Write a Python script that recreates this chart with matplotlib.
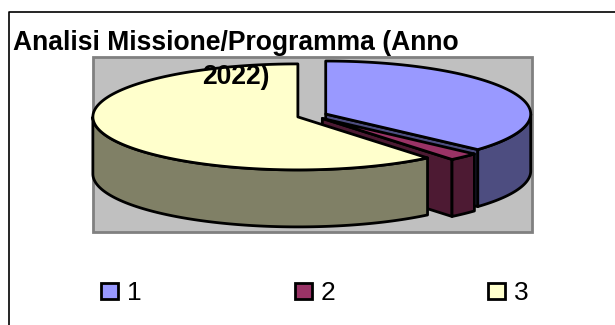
import numpy as np
import matplotlib
matplotlib.use('Agg')
import matplotlib.pyplot as plt
from matplotlib.patches import Polygon, Rectangle

# Data
labels = ['1', '2', '3']
values = [36.7, 2.4, 60.9]
title_lines = ['Analisi Missione/Programma (Anno', '2022)']

top_colors = ['#9999FF', '#993366', '#FFFFCC']
wall_colors = ['#4D4D80', '#4D1A33', '#808066']

# Pie geometry, in pixels
cx, cy = 312, 115.6
rx, ry = 205, 53
depth = 57
explode = 15

plt.rcParams['font.family'] = ['Liberation Sans', 'DejaVu Sans']

fig = plt.figure(figsize=(6.15, 3.25), dpi=100)
ax = fig.add_axes([0, 0, 1, 1])
ax.set_xlim(0, 615)
ax.set_ylim(325, 0)
ax.axis('off')

# chart frame
ax.plot([8.5, 8.5, 620], [330, 11.5, 11.5], color='black', lw=1.2, zorder=1)

# plot area
ax.add_patch(Rectangle((93, 57), 439, 175, fc='#C0C0C0', ec='#808080', lw=2, zorder=1))


def arc(c, t0, t1, dy=0):
    t = np.radians(np.linspace(t0, t1, 120))
    return np.column_stack([c[0] + rx * np.cos(t), c[1] - ry * np.sin(t) + dy])


def face(pts, color):
    ax.add_patch(Polygon(pts, closed=True, fc=color, ec='black', lw=2,
                         joinstyle='round', zorder=2))


# angles run clockwise from 12 o'clock
shares = np.array(values) / sum(values) * 360
starts = 90 - np.concatenate([[0], np.cumsum(shares)[:-1]])
ends = starts - shares

for i in range(len(values)):
    t0, t1 = starts[i], ends[i]
    mid = np.radians((t0 + t1) / 2)
    c = (cx + explode * np.cos(mid), cy - explode * ry / rx * np.sin(mid))

    # cut face at the clockwise end of the slice
    end_pt = arc(c, t1, t1)[0]
    if i < 2:
        face([c, end_pt, (end_pt[0], end_pt[1] + depth), (c[0], c[1] + depth)], wall_colors[i])

    # outer wall, only the part facing the viewer
    w0 = min(t0, 0)
    w1 = max(t1, -180)
    if w0 > w1:
        top_edge = arc(c, w0, w1)
        bottom_edge = arc(c, w1, w0, depth)
        face(np.vstack([top_edge, bottom_edge]), wall_colors[i])

    # top
    face(np.vstack([[c], arc(c, t0, t1)]), top_colors[i])

# title sits over the pie, as in the original
ax.text(236, 50, title_lines[0], fontsize=19.1, fontweight='bold', ha='center', va='baseline', zorder=5)
ax.text(236, 83.5, title_lines[1], fontsize=19.1, fontweight='bold', ha='center', va='baseline', zorder=5)

# legend
legend_x = [101, 295, 488]
for x, lab, col in zip(legend_x, labels, top_colors):
    ax.add_patch(Rectangle((x, 283), 17, 16, fc=col, ec='black', lw=2, zorder=3))
    ax.text(x + 26, 300, lab, fontsize=19, ha='left', va='baseline', zorder=3)

fig.savefig('out.png', dpi=100)
